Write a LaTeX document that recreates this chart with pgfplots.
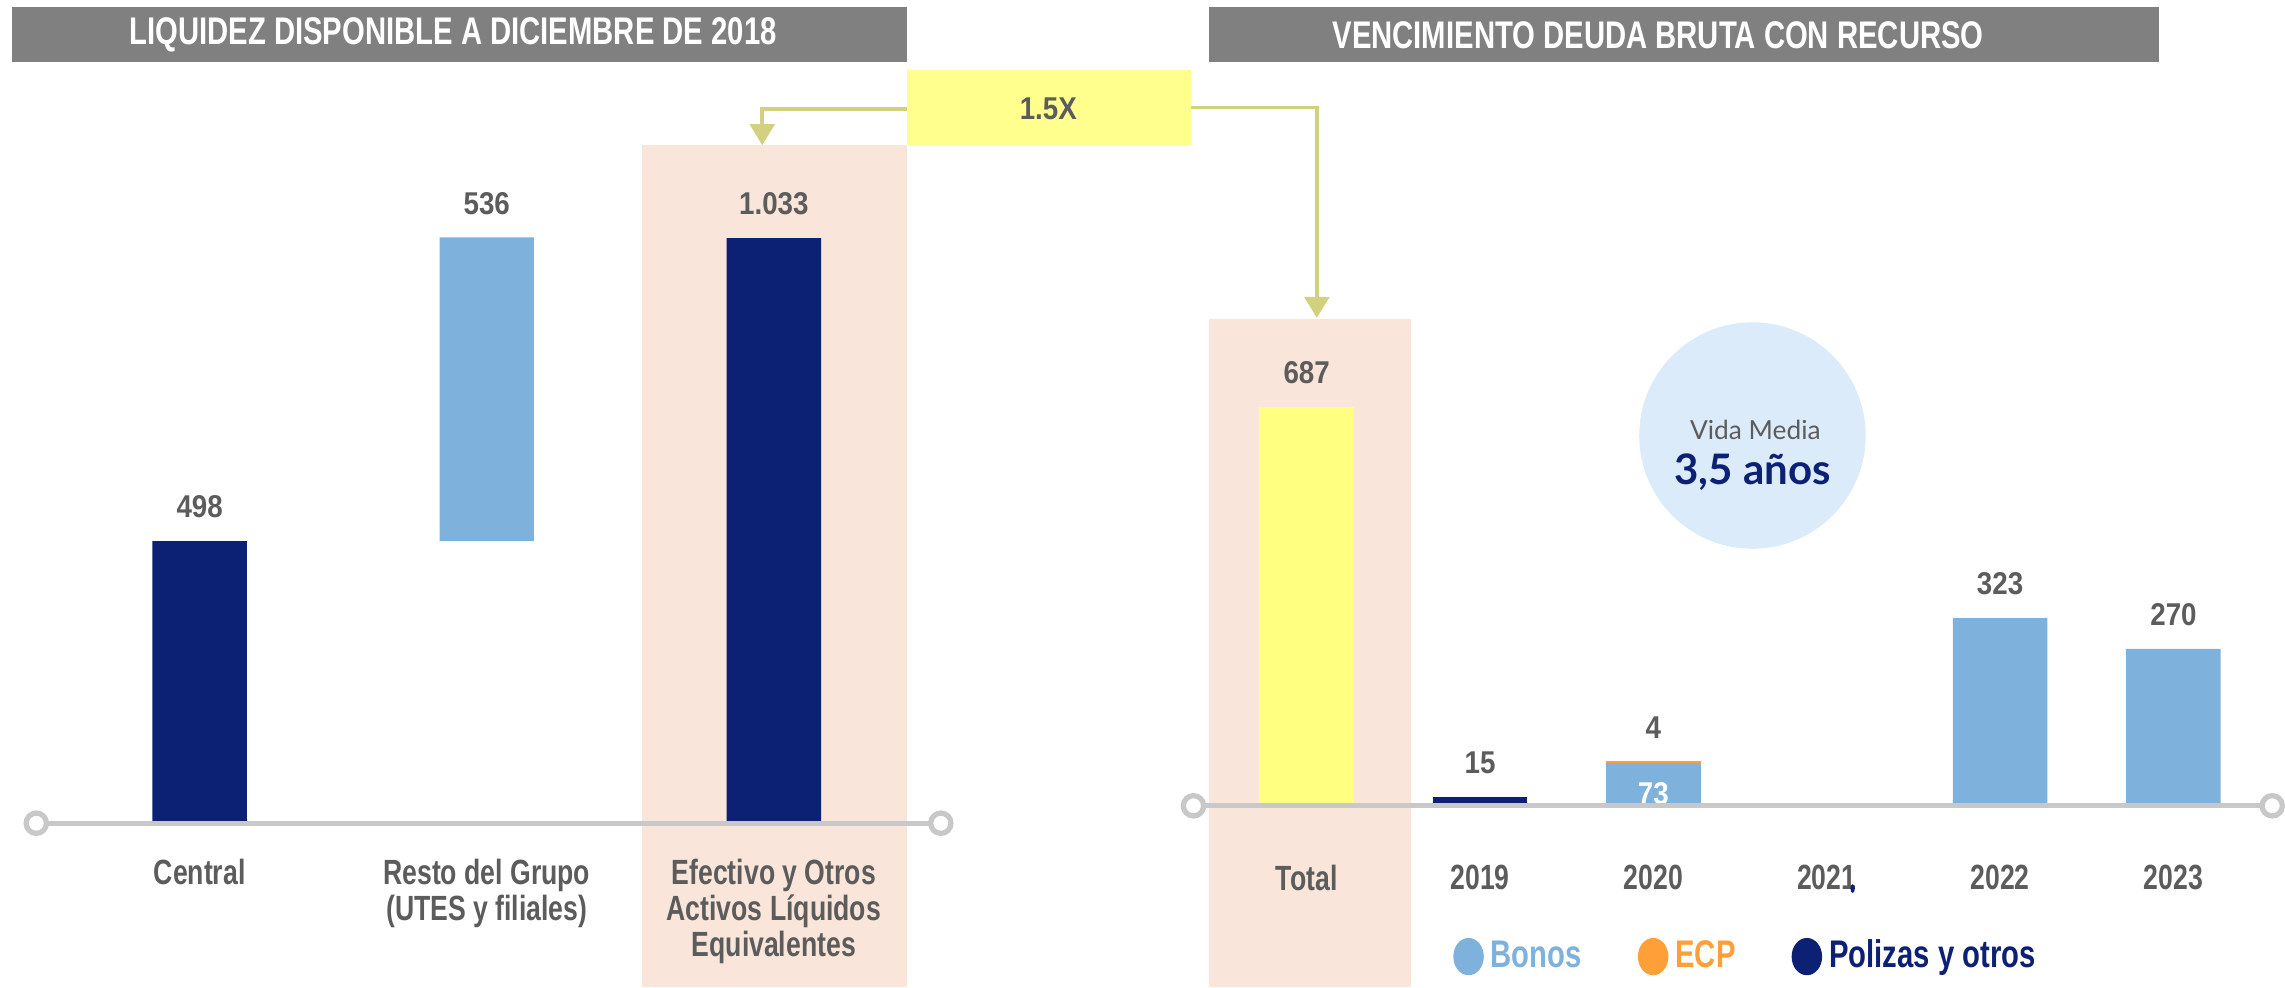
\documentclass[border=0pt]{standalone}
\usepackage{fontspec}
\setmainfont{Liberation Sans}
\newfontfamily\cond[FakeStretch=0.76]{Liberation Sans}
\newfontfamily\condn[FakeStretch=0.88]{Liberation Sans}
\newfontfamily\lato{Lato}
\usepackage{pgfplots}
\pgfplotsset{compat=1.18}
\usetikzlibrary{arrows.meta}

\definecolor{navyc}{HTML}{0C2173}
\definecolor{bonosc}{HTML}{7FB1DD}
\definecolor{ecpc}{HTML}{FF9F38}
\definecolor{yellowc}{HTML}{FFFF80}
\definecolor{boxc}{HTML}{FFFF8E}
\definecolor{peachc}{HTML}{F9E5D9}
\definecolor{titlec}{HTML}{808080}
\definecolor{txtc}{HTML}{5C5C5C}
\definecolor{linec}{HTML}{C8C8C8}
\definecolor{khakic}{HTML}{D2D17F}
\definecolor{bubblec}{HTML}{DCEBFA}

\newcommand\legcirc[1]{\addlegendimage{legend image code/.code={%
  \fill[#1] (0.15cm,0) ellipse [x radius=0.146cm, y radius=0.18cm];}}}

\pgfplotsset{
  colbar/.style={ybar, bar shift=0pt, draw=none, nodes near coords, forget plot},
  deco/.style={
    scale only axis, clip=false, enlargelimits=false,
    axis line style={draw=none}, tick style={draw=none}, ytick=\empty,
    xticklabel style={align=center, text=txtc,
      font=\cond\bfseries\fontsize{10}{10.4}\selectfont},
    point meta=explicit symbolic,
    every node near coord/.append style={text=txtc,
      font=\condn\bfseries\fontsize{9}{11}\selectfont, yshift=3pt},
  },
}

\begin{document}
\begin{tikzpicture}
\begin{scope}[x=0.014573cm, y=-0.014573cm]
  \path[use as bounding box] (0,0) rectangle (1568,680);
  % shaded columns
  \fill[peachc] (442,100) rectangle (625,680);
  \fill[peachc] (833,220) rectangle (972,680);
  % title bars
  \fill[titlec] (8,5) rectangle (625,43);
  \fill[titlec] (833,5) rectangle (1487,43);
  \node[text=white, font=\cond\bfseries\fontsize{11}{12}\selectfont] at (312,24)
    {LIQUIDEZ DISPONIBLE A DICIEMBRE DE 2018};
  \node[text=white, font=\cond\bfseries\fontsize{11}{12}\selectfont] at (1142,24)
    {VENCIMIENTO DEUDA BRUTA CON RECURSO};
  % 1.5X connector
  \draw[khakic, line width=1.1pt, -{Triangle[width=7pt,length=6pt]}] (625,75) -| (525,100);
  \draw[khakic, line width=1.1pt, -{Triangle[width=7pt,length=6pt]}] (820,74) -| (907,219);
  \fill[boxc] (625,48) rectangle (820,100);
  \node[text=txtc, font=\condn\bfseries\fontsize{9}{11}\selectfont] at (722,75) {1.5X};
  % vida media bubble
  \fill[bubblec] (1207,300) circle (78);
  \node[text=txtc, font=\lato\fontsize{7.5}{9}\selectfont] at (1209,296) {Vida Media};
  \node[text=navyc, font=\lato\bfseries\fontsize{12}{14}\selectfont] at (1207,325) {3,5 años};
  \coordinate (L0) at (25,567);
  \coordinate (R0) at (822,555);
\end{scope}

% liquidez disponible
\begin{axis}[deco, at={(L0)}, anchor=south west,
  width=9.079cm, height=6.806cm,
  xmin=-0.569, xmax=2.582, ymin=0, ymax=1197,
  bar width=0.329,
  xtick={0,1,2},
  xticklabels={Central,{Resto del Grupo\\(UTES y filiales)},{Efectivo y Otros\\Activos Líquidos\\Equivalentes}},
  xticklabel style={yshift=-6.6pt},
]
\addplot[colbar, fill=navyc] coordinates {(0,498)[498] (2,1033)[1.033]};
% resto del grupo: from 498 up to 498+536
\addplot[fill=bonosc, draw=none, nodes near coords] coordinates
  {(0.8355,498)[] (0.8355,1034)[] (1,1034)[536] (1.1645,1034)[] (1.1645,498)[]};
\end{axis}

% vencimiento deuda bruta
\begin{axis}[deco, at={(R0)}, anchor=south west,
  width=10.871cm, height=4.882cm,
  xmin=-0.653, xmax=5.595, ymin=0, ymax=837,
  bar width=0.545,
  xtick={0,1,2,3,4,5},
  xticklabels={Total,2019,2020,2021,2022,2023},
  xticklabel style={yshift=-13.3pt},
  legend columns=-1,
  legend style={at={(0.512,-0.31)}, anchor=center, draw=none, fill=none,
    font=\cond\bfseries\fontsize{11}{12}\selectfont,
    /tikz/every even column/.append style={column sep=14pt}},
]
\addplot[colbar, fill=yellowc] coordinates {(0,687)[687]};
\addplot[colbar, fill=navyc] coordinates {(1,15)[15]};
% 2020: 73 bonos + 4 ECP
\addplot[colbar, fill=ecpc] coordinates {(2,77)[4]};
\addplot[colbar, fill=bonosc,
  every node near coord/.append style={anchor=north, text=white, yshift=-5pt}]
  coordinates {(2,73)[73]};
\addplot[colbar, fill=bonosc] coordinates {(4,323)[323] (5,270)[270]};
\legcirc{bonosc}
\addlegendentry{\textcolor{bonosc}{Bonos}}
\legcirc{ecpc}
\addlegendentry{\textcolor{ecpc}{ECP}}
\legcirc{navyc}
\addlegendentry{\textcolor{navyc}{Polizas y otros}}
\end{axis}

\begin{scope}[x=0.014573cm, y=-0.014573cm]
  \draw[linec, line width=1.5pt] (25,567) -- (648,567);
  \draw[linec, line width=1.5pt, fill=white] (25,567) circle (7) (648,567) circle (7);
  \draw[linec, line width=1.5pt] (822,555) -- (1568,555);
  \draw[linec, line width=1.5pt, fill=white] (822,555) circle (7) (1565,555) circle (7);
  \fill[navyc] (1276,612) ellipse (1.5 and 3);
\end{scope}
\end{tikzpicture}
\end{document}
